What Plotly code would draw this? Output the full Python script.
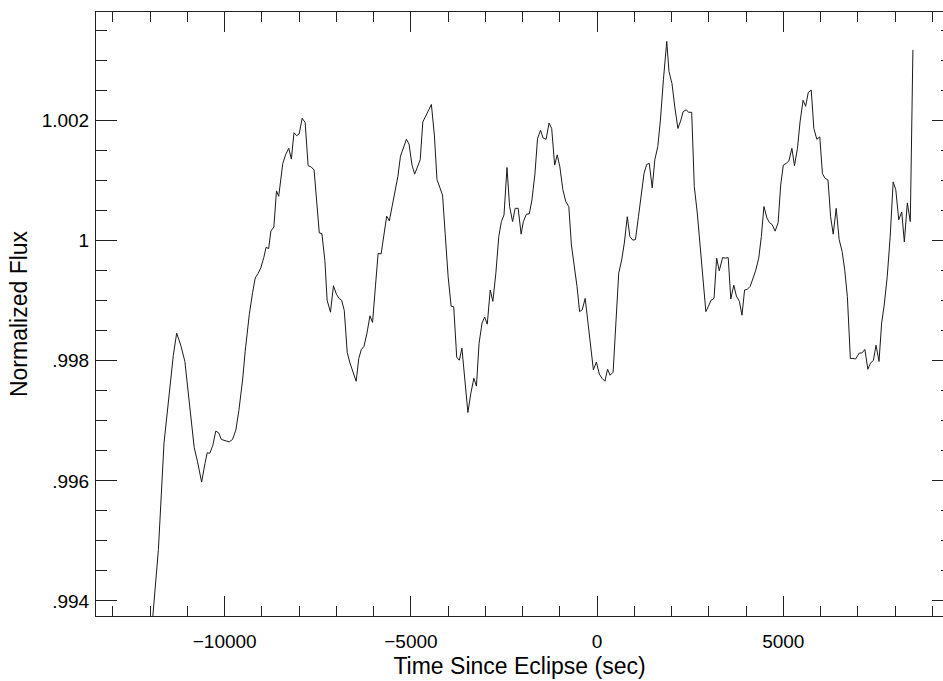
import plotly.graph_objects as go

# Light curve: time relative to mid-eclipse (s) and normalized flux
time_sec = [
    -12010, -11780, -11630, -11490, -11380, -11290, -11180, -11070, -10980, -10900,
    -10820, -10730, -10620, -10530, -10470, -10400, -10320, -10240, -10160, -10090,
    -9990, -9880, -9790, -9700, -9620, -9520, -9450, -9340, -9250, -9180,
    -9100, -9030, -8950, -8890, -8820, -8760, -8680, -8610, -8550, -8440,
    -8360, -8280, -8210, -8140, -8070, -8000, -7920, -7840, -7760, -7680,
    -7600, -7530, -7460, -7390, -7310, -7250, -7160, -7080, -7000, -6930,
    -6860, -6790, -6710, -6640, -6560, -6470, -6400, -6330, -6260, -6180,
    -6100, -6030, -5950, -5880, -5800, -5720, -5650, -5580, -5500, -5430,
    -5350, -5280, -5200, -5120, -5050, -4970, -4900, -4830, -4750, -4680,
    -4590, -4520, -4450, -4370, -4300, -4220, -4150, -4080, -4000, -3920,
    -3850, -3770, -3700, -3630, -3550, -3470, -3390, -3310, -3240, -3170,
    -3090, -3020, -2950, -2870, -2800, -2720, -2640, -2570, -2500, -2420,
    -2350, -2270, -2200, -2120, -2040, -1980, -1900, -1820, -1750, -1670,
    -1600, -1520, -1450, -1370, -1290, -1220, -1140, -1070, -1000, -920,
    -840, -760, -690, -620, -540, -470, -400, -320, -240, -170,
    -100, -20, 60, 130, 210, 280, 350, 430, 500, 580,
    660, 730, 810, 880, 960, 1030, 1110, 1180, 1260, 1330,
    1400, 1480, 1550, 1630, 1700, 1780, 1870, 1930, 2010, 2090,
    2170, 2250, 2310, 2390, 2460, 2540, 2610, 2690, 2760, 2840,
    2920, 2990, 3060, 3140, 3210, 3280, 3370, 3440, 3520, 3590,
    3670, 3740, 3820, 3890, 3960, 4030, 4110, 4190, 4260, 4340,
    4410, 4480, 4560, 4630, 4700, 4780, 4860, 4930, 5000, 5080,
    5150, 5230, 5300, 5380, 5450, 5530, 5600, 5670, 5750, 5820,
    5900, 5980, 6050, 6120, 6200, 6270, 6340, 6420, 6500, 6580,
    6650, 6720, 6800, 6870, 6940, 7040, 7110, 7190, 7270, 7340,
    7420, 7490, 7570, 7640, 7710, 7790, 7870, 7950, 8020, 8100,
    8180, 8250, 8330, 8410, 8480,
]

flux = [
    0.99315, 0.99486, 0.99663, 0.99741, 0.99809, 0.99846, 0.99826, 0.99799, 0.99748, 0.99693,
    0.99656, 0.99632, 0.99598, 0.99629, 0.99647, 0.99646, 0.99659, 0.99683, 0.99680, 0.99669,
    0.99667, 0.99665, 0.99669, 0.99685, 0.99717, 0.99768, 0.99816, 0.99877, 0.99914, 0.99938,
    0.99946, 0.99955, 0.99972, 0.99989, 0.99987, 1.00016, 1.00023, 1.00083, 1.00074, 1.00129,
    1.00144, 1.00154, 1.00136, 1.00180, 1.00175, 1.00178, 1.00204, 1.00197, 1.00125, 1.00123,
    1.00118, 1.00068, 1.00013, 1.00012, 0.99967, 0.99901, 0.99881, 0.99925, 0.99911, 0.99904,
    0.99901, 0.99884, 0.99814, 0.99797, 0.99782, 0.99766, 0.99804, 0.99819, 0.99824, 0.99846,
    0.99875, 0.99864, 0.99926, 0.99979, 0.99978, 1.00015, 1.00041, 1.00033, 1.00057, 1.00082,
    1.00107, 1.00141, 1.00154, 1.00169, 1.00161, 1.00126, 1.00111, 1.00122, 1.00135, 1.00198,
    1.00208, 1.00218, 1.00227, 1.00176, 1.00102, 1.00087, 1.00076, 1.00012, 0.99940, 0.99891,
    0.99890, 0.99806, 0.99801, 0.99821, 0.99765, 0.99714, 0.99746, 0.99771, 0.99758, 0.99829,
    0.99863, 0.99873, 0.99861, 0.99918, 0.99899, 0.99945, 1.00007, 1.00032, 1.00043, 1.00122,
    1.00057, 1.00032, 1.00054, 1.00054, 1.00011, 1.00032, 1.00044, 1.00045, 1.00068, 1.00111,
    1.00170, 1.00184, 1.00171, 1.00169, 1.00196, 1.00187, 1.00126, 1.00143, 1.00123, 1.00085,
    1.00065, 1.00057, 0.99993, 0.99962, 0.99924, 0.99882, 0.99885, 0.99904, 0.99857, 0.99818,
    0.99785, 0.99798, 0.99778, 0.99771, 0.99766, 0.99786, 0.99776, 0.99781, 0.99865, 0.99946,
    0.99968, 0.99996, 1.00040, 1.00007, 1.00001, 1.00002, 1.00040, 1.00073, 1.00112, 1.00127,
    1.00129, 1.00088, 1.00135, 1.00157, 1.00201, 1.00268, 1.00332, 1.00282, 1.00262, 1.00221,
    1.00187, 1.00201, 1.00215, 1.00218, 1.00214, 1.00214, 1.00090, 1.00046, 0.99996, 0.99929,
    0.99882, 0.99891, 0.99901, 0.99904, 0.99971, 0.99950, 0.99972, 0.99971, 0.99972, 0.99903,
    0.99926, 0.99908, 0.99899, 0.99876, 0.99918, 0.99919, 0.99924, 0.99938, 0.99951, 0.99971,
    1.00007, 1.00057, 1.00038, 1.00030, 1.00027, 1.00016, 1.00030, 1.00093, 1.00126, 1.00129,
    1.00133, 1.00154, 1.00125, 1.00154, 1.00198, 1.00234, 1.00224, 1.00247, 1.00251, 1.00187,
    1.00169, 1.00173, 1.00112, 1.00104, 1.00101, 1.00040, 1.00011, 1.00054, 1.00002, 0.99982,
    0.99951, 0.99907, 0.99804, 0.99804, 0.99803, 0.99813, 0.99813, 0.99819, 0.99786, 0.99796,
    0.99801, 0.99826, 0.99799, 0.99863, 0.99893, 0.99940, 1.00007, 1.00098, 1.00085, 1.00035,
    1.00048, 0.99998, 1.00063, 1.00032, 1.00318,
]

x_range = [-13456, 9288]
y_range = [0.99375, 1.00381]

FONT = dict(family="Liberation Sans, Arial, Helvetica, sans-serif", size=19, color="black")
AX_COLOR = "#222222"

fig = go.Figure()
fig.add_trace(go.Scatter(
    x=time_sec, y=flux, mode="lines",
    line=dict(color="#1a1a1a", width=1),
    showlegend=False, hoverinfo="skip",
))
# carrier trace so the right-hand tick axis is drawn
fig.add_trace(go.Scatter(
    x=time_sec, y=flux, mode="none", yaxis="y2",
    showlegend=False, hoverinfo="skip",
))

fig.update_layout(
    width=943, height=681,
    margin=dict(l=96, r=0, t=12, b=65),
    paper_bgcolor="white", plot_bgcolor="white",
    font=FONT,
    xaxis=dict(
        range=x_range, showgrid=False, zeroline=False,
        showline=True, linecolor=AX_COLOR, linewidth=1, mirror="ticks",
        ticks="inside", ticklen=20, tickwidth=1, tickcolor=AX_COLOR,
        tickmode="linear", tick0=0, dtick=5000, tickformat="d",
        ticklabelstandoff=8,
        minor=dict(ticks="inside", ticklen=10, tickwidth=1, tickcolor=AX_COLOR,
                   tickmode="linear", tick0=0, dtick=1000, showgrid=False),
        title=dict(text="Time Since Eclipse (sec)", standoff=7),
    ),
    yaxis=dict(
        range=y_range, showgrid=False, zeroline=False,
        showline=True, linecolor=AX_COLOR, linewidth=1, mirror=False,
        ticks="inside", ticklen=21, tickwidth=1, tickcolor=AX_COLOR,
        tickmode="linear", tick0=0.994, dtick=0.002, tickformat=".3f",
        labelalias={"0.994": ".994", "0.996": ".996", "0.998": ".998",
                    "1.000": "1", "1.002": "1.002"},
        ticklabelstandoff=2,
        minor=dict(ticks="inside", ticklen=10.5, tickwidth=1, tickcolor=AX_COLOR,
                   tickmode="linear", tick0=0.994, dtick=0.0005, showgrid=False),
        title=dict(text="Normalized Flux", standoff=7),
    ),
    yaxis2=dict(
        range=y_range, overlaying="y", side="right", anchor="x",
        showgrid=False, zeroline=False, showline=False, showticklabels=False,
        ticks="inside", ticklen=11, tickwidth=1, tickcolor=AX_COLOR,
        tickmode="linear", tick0=0.994, dtick=0.002,
        minor=dict(ticks="inside", ticklen=2, tickwidth=1, tickcolor=AX_COLOR,
                   tickmode="linear", tick0=0.994, dtick=0.0005, showgrid=False),
    ),
)

fig.write_html("out.html")
